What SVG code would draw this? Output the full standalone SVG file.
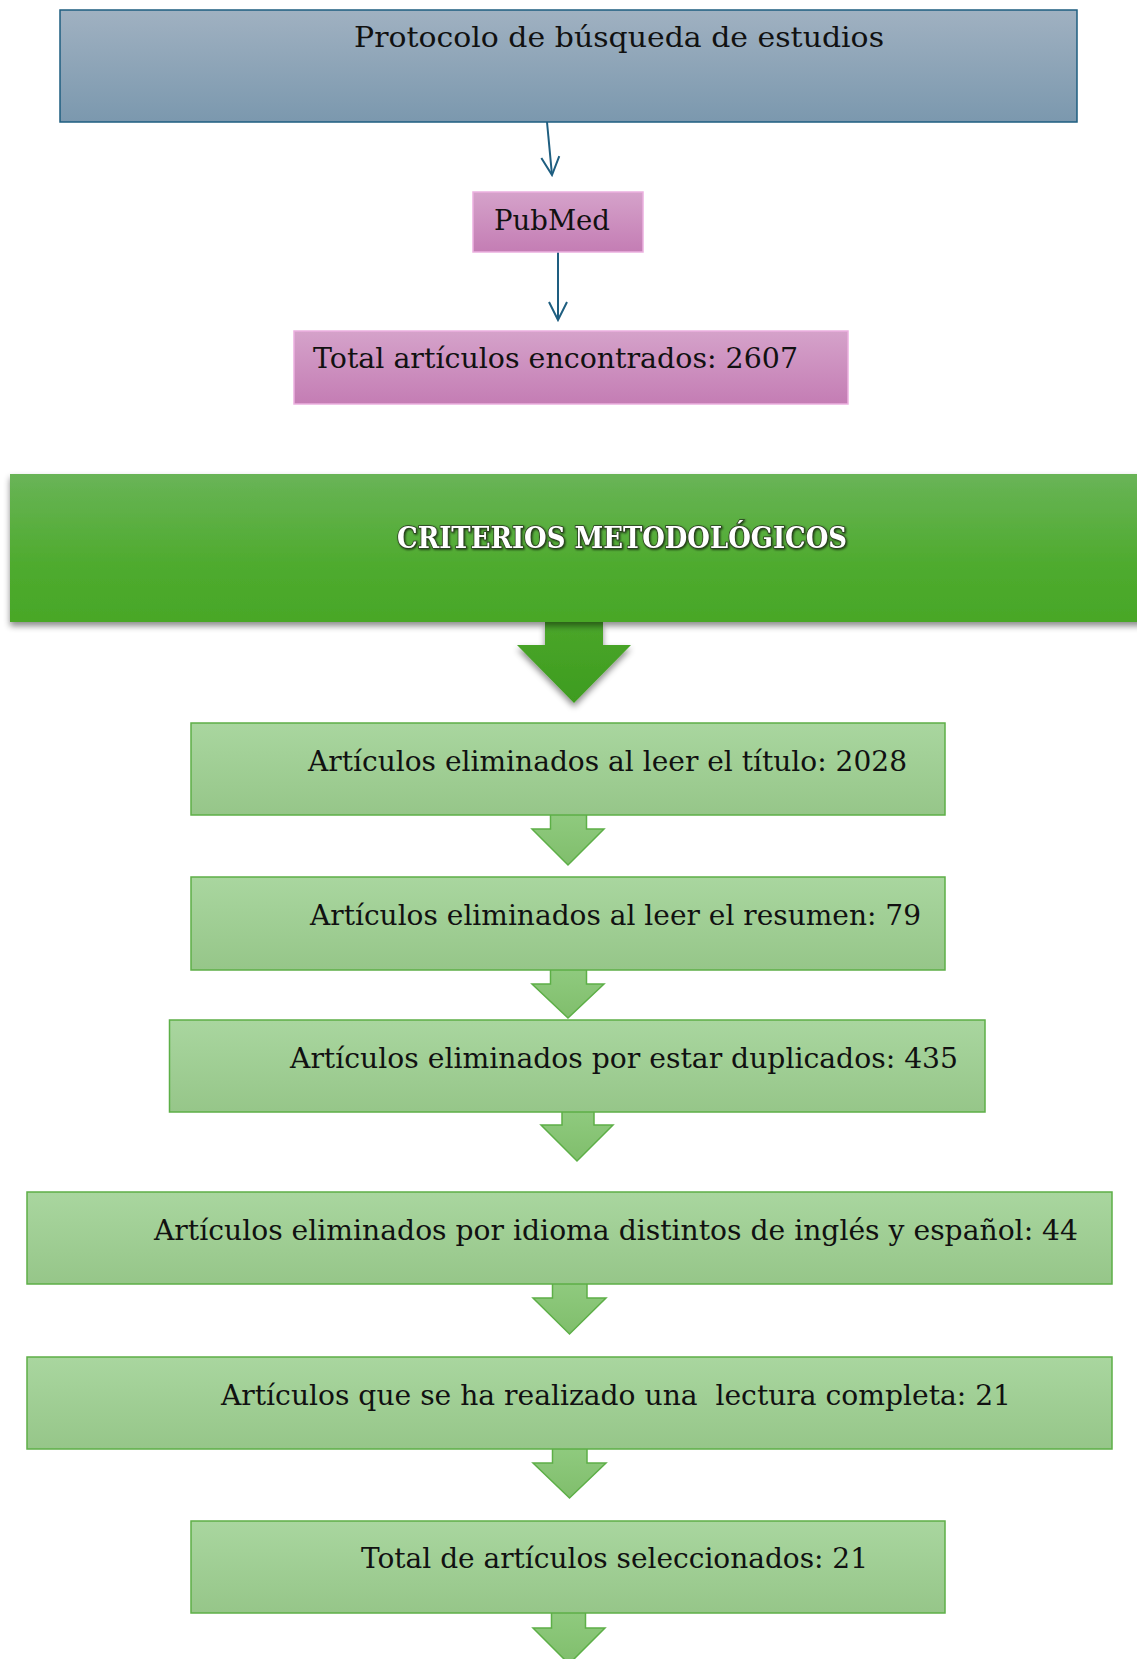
<svg xmlns="http://www.w3.org/2000/svg" width="1137" height="1659" viewBox="0 0 1137 1659">
<defs>
<linearGradient id="gBlue" x1="0" y1="0" x2="0" y2="1"><stop offset="0" stop-color="#A0B1C1"/><stop offset="1" stop-color="#7B98AE"/></linearGradient>
<linearGradient id="gPink" x1="0" y1="0" x2="0" y2="1"><stop offset="0" stop-color="#D5A2CA"/><stop offset="1" stop-color="#C47DB4"/></linearGradient>
<linearGradient id="gBanner" x1="0" y1="0" x2="0" y2="1"><stop offset="0" stop-color="#69B457"/><stop offset="0.6" stop-color="#4FAB2F"/><stop offset="1" stop-color="#48A727"/></linearGradient>
<linearGradient id="gBig" x1="0" y1="0" x2="0" y2="1"><stop offset="0" stop-color="#4AA62A"/><stop offset="1" stop-color="#3E9C1F"/></linearGradient>
<linearGradient id="gBox" x1="0" y1="0" x2="0" y2="1"><stop offset="0" stop-color="#A9D69F"/><stop offset="1" stop-color="#96C689"/></linearGradient>
<linearGradient id="gArr" x1="0" y1="0" x2="0" y2="1"><stop offset="0" stop-color="#8FCA7E"/><stop offset="1" stop-color="#80BE6C"/></linearGradient>
<filter id="shadow" x="-5%" y="-10%" width="110%" height="130%"><feDropShadow dx="0" dy="4" stdDeviation="3" flood-color="#000" flood-opacity="0.45"/></filter>
<filter id="tshadow" x="-5%" y="-30%" width="110%" height="160%"><feDropShadow dx="1" dy="1" stdDeviation="0.8" flood-color="#000" flood-opacity="0.7"/></filter>
<marker id="vhead" markerWidth="22" markerHeight="22" refX="20" refY="11" orient="auto" markerUnits="userSpaceOnUse" viewBox="0 0 22 22"><path d="M2,2 L20,11 L2,20" fill="none" stroke="#1E5E80" stroke-width="2"/></marker>
</defs>
<style>
.t{font-family:"DejaVu Serif","Liberation Serif",serif;font-size:28px;fill:#111;}
.box{fill:url(#gBox);stroke:#5DAF47;stroke-width:1.5;}
.sarr{fill:url(#gArr);stroke:#5DAF47;stroke-width:1.5;stroke-linejoin:miter;}
.line{fill:none;stroke:#1E5E80;stroke-width:2;}
.pink{fill:url(#gPink);stroke:#EBB0DF;stroke-width:1.5;}
</style>
<rect width="1137" height="1659" fill="#fff"/>

<g id="connectors">
<line class="line" x1="547" y1="122" x2="552" y2="175" marker-end="url(#vhead)"/>
<line class="line" x1="558" y1="252" x2="558" y2="320" marker-end="url(#vhead)"/>
<path d="M545,622 L545,645 L517,645 L574,703 L631,645 L603,645 L603,622 Z" fill="url(#gBig)" filter="url(#shadow)"/>
<path class="sarr" d="M550.5,815 L550.5,829 L532,829 L568,865 L604,829 L586.5,829 L586.5,815"/>
<path class="sarr" d="M550.5,970 L550.5,984 L532,984 L568,1018 L604,984 L586.5,984 L586.5,970"/>
<path class="sarr" d="M562,1112 L562,1125 L541,1125 L577,1161 L613,1125 L594,1125 L594,1112"/>
<path class="sarr" d="M552.5,1284 L552.5,1298 L533,1298 L569.5,1334 L606,1298 L587,1298 L587,1284"/>
<path class="sarr" d="M552.5,1449 L552.5,1463 L533,1463 L569.5,1498 L606,1463 L587,1463 L587,1449"/>
<path class="sarr" d="M551.5,1613 L551.5,1628 L533,1628 L569,1664 L605,1628 L585.5,1628 L585.5,1613"/>
</g>

<g id="n-protocolo">
<rect x="60" y="10" width="1017" height="112" fill="url(#gBlue)" stroke="#1E5E80" stroke-width="1.5"/>
<text class="t" x="354" y="47" textLength="530" lengthAdjust="spacingAndGlyphs">Protocolo de búsqueda de estudios</text>
</g>

<g id="n-pubmed">
<rect class="pink" x="473" y="192" width="170" height="60"/>
<text class="t" x="494" y="230" textLength="116" lengthAdjust="spacingAndGlyphs">PubMed</text>
</g>

<g id="n-total">
<rect class="pink" x="294" y="331" width="554" height="73"/>
<text class="t" x="313" y="368" textLength="485" lengthAdjust="spacingAndGlyphs">Total artículos encontrados: 2607</text>
</g>

<g id="n-criterios">
<rect x="10" y="474" width="1140" height="148" fill="url(#gBanner)" filter="url(#shadow)"/>
<text x="397" y="548" textLength="450" lengthAdjust="spacingAndGlyphs" font-family="'DejaVu Serif','Liberation Serif',serif" font-weight="bold" font-size="30" fill="#fff" stroke="#2a3a20" stroke-width="1.6" paint-order="stroke" filter="url(#tshadow)">CRITERIOS METODOLÓGICOS</text>
</g>

<g id="n-titulo">
<rect class="box" x="191" y="723" width="754" height="92"/>
<text class="t" x="308" y="771" textLength="599" lengthAdjust="spacingAndGlyphs">Artículos eliminados al leer el título: 2028</text>
</g>

<g id="n-resumen">
<rect class="box" x="191" y="877" width="754" height="93"/>
<text class="t" x="310" y="925" textLength="611" lengthAdjust="spacingAndGlyphs">Artículos eliminados al leer el resumen: 79</text>
</g>

<g id="n-duplicados">
<rect class="box" x="169.5" y="1020" width="815.5" height="92"/>
<text class="t" x="290" y="1068" textLength="668" lengthAdjust="spacingAndGlyphs">Artículos eliminados por estar duplicados: 435</text>
</g>

<g id="n-idioma">
<rect class="box" x="27" y="1192" width="1085" height="92"/>
<text class="t" x="154" y="1240" textLength="924" lengthAdjust="spacingAndGlyphs">Artículos eliminados por idioma distintos de inglés y español: 44</text>
</g>

<g id="n-lectura">
<rect class="box" x="27" y="1357" width="1085" height="92"/>
<text class="t" x="221" y="1405" textLength="790" lengthAdjust="spacingAndGlyphs" xml:space="preserve">Artículos que se ha realizado una  lectura completa: 21</text>
</g>

<g id="n-seleccionados">
<rect class="box" x="191" y="1521" width="754" height="92"/>
<text class="t" x="361" y="1568" textLength="507" lengthAdjust="spacingAndGlyphs">Total de artículos seleccionados: 21</text>
</g>
</svg>
